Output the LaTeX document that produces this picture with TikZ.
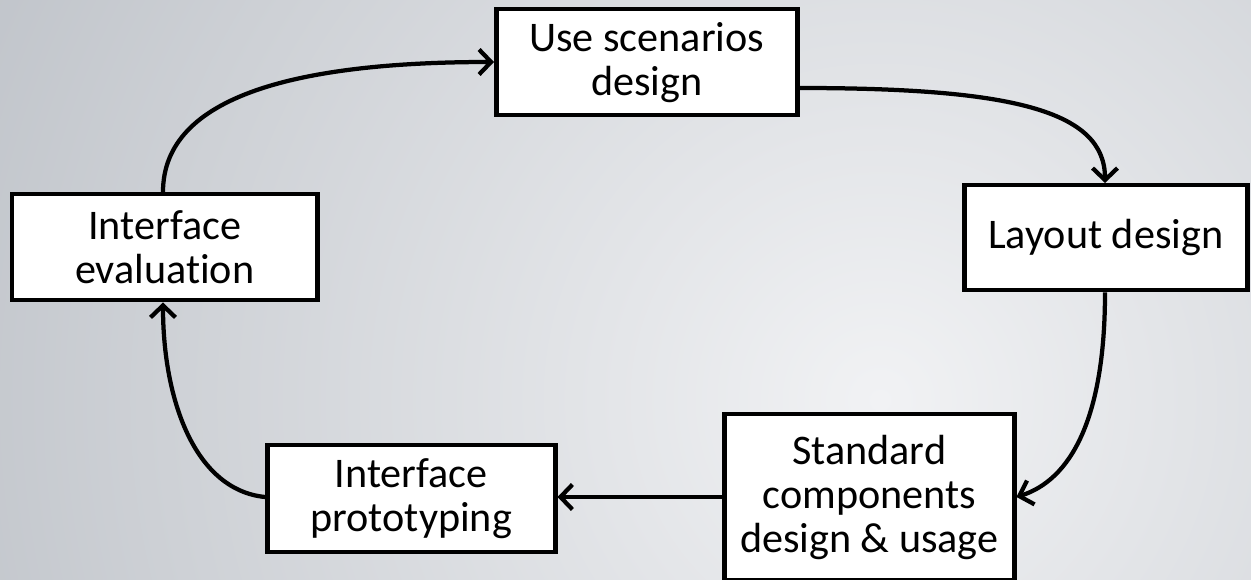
\documentclass[tikz,border=0pt]{standalone}
\usepackage{fontspec}
\setmainfont{Carlito}[Ligatures=NoCommon]
\usetikzlibrary{arrows.meta}
\definecolor{bgedge}{RGB}{192,196,202}
\definecolor{bgmid}{RGB}{241,242,244}
\begin{document}
\begin{tikzpicture}[x=0.02cm,y=-0.02cm,
  stage/.style={draw=black, fill=white, line width=0.09cm, inner sep=0pt,
    align=center, font=\fontsize{24}{25}\selectfont, anchor=north west},
  flow/.style={line width=0.085cm, -{Straight Barb[length=0.24cm,width=0.5cm,line width=0.085cm]}}]
  % backdrop
  \begin{scope}
    \clip (0,0) rectangle (1251,580);
    \fill[bgedge] (0,0) rectangle (1251,580);
    \shade[inner color=bgmid, outer color=bgedge] (880,400) circle (0.02cm*1000);
  \end{scope}
  \useasboundingbox (0,0) rectangle (1251,580);

  % stages
  \node[stage, minimum width=0.02cm*301, minimum height=0.02cm*106] (us) at (494,7) {Use scenarios\\design};
  \node[stage, minimum width=0.02cm*283, minimum height=0.02cm*105] (ld) at (962,183) {Layout design};
  \node[stage, minimum width=0.02cm*290, minimum height=0.02cm*166] (sc) at (722,412) {Standard\\components\\design \& usage};
  \node[stage, minimum width=0.02cm*288, minimum height=0.02cm*107] (ip) at (265,443) {Interface\\prototyping};
  \node[stage, minimum width=0.02cm*305, minimum height=0.02cm*106] (ie) at (10,192) {Interface\\evaluation};

  % cycle
  \draw[flow] (ie.north west -| 163,0) .. controls (163,95) and (300,62) .. (us.west |- 0,62);
  \draw[flow] (us.east |- 0,88) .. controls (1010,88) and (1105,110) .. (ld.north west -| 1105,0);
  \draw[flow] (ld.south west -| 1105,0) .. controls (1105,420) and (1070,480) .. (sc.east |- 0,497);
  \draw[flow] (sc.west |- 0,497) -- (ip.east |- 0,497);
  \draw[flow] (ip.west |- 0,497) .. controls (195,490) and (163,400) .. (ie.south west -| 163,0);
\end{tikzpicture}
\end{document}
